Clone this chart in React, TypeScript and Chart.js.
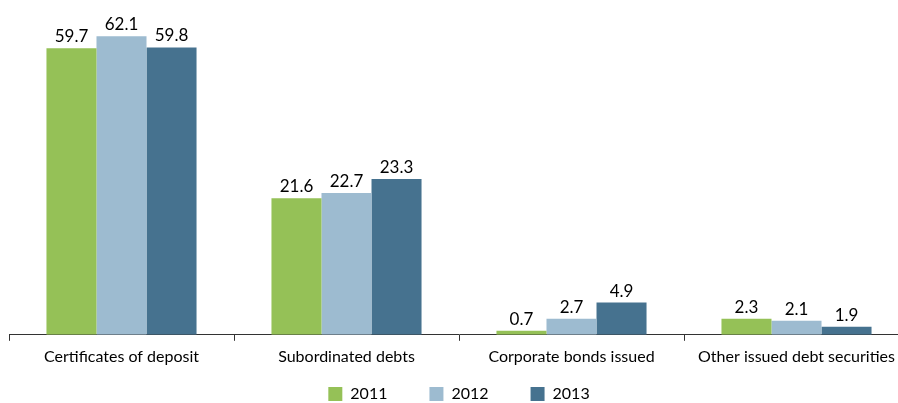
import React, { useEffect, useRef } from "react";
import { Chart, registerables } from "chart.js";

Chart.register(...registerables);

const categories = [
  "Certificates of deposit",
  "Subordinated debts",
  "Corporate bonds issued",
  "Other issued debt securities",
];
const seriesNames = ["2011", "2012", "2013"];
// Values printed above the bars
const labels2011 = [59.7, 21.6, 0.7, 2.3];
const labels2012 = [62.1, 22.7, 2.7, 2.1];
const labels2013 = [59.8, 23.3, 4.9, 1.9];
// Bar heights as drawn in the picture (same units as the printed values for the tallest group)
const bars2011 = [59.6, 28.4, 0.85, 3.35];
const bars2012 = [62.1, 29.5, 3.35, 2.9];
const bars2013 = [59.8, 32.4, 6.7, 1.7];
const colors = ["#95C157", "#9DBBD0", "#46728F"];

const FONT = "Lato, 'Open Sans', sans-serif";
const LEGEND_PAD = 42;

const labelSets = [labels2011, labels2012, labels2013];

const dataLabels = {
  id: "dataLabels",
  afterDatasetsDraw(chart: any) {
    const ctx = chart.ctx;
    ctx.save();
    ctx.font = `17px ${FONT}`;
    ctx.fillStyle = "#000";
    ctx.textAlign = "center";
    ctx.textBaseline = "bottom";
    chart.data.datasets.forEach((_ds: any, i: number) => {
      const meta = chart.getDatasetMeta(i);
      meta.data.forEach((el: any, j: number) => {
        ctx.fillText(labelSets[i][j].toFixed(1), el.x, el.y - 3);
      });
    });
    ctx.restore();
  },
};

const legendShift = {
  id: "legendShift",
  afterLayout(chart: any) {
    const lg = chart.legend;
    if (!lg) return;
    const dy = lg.top + LEGEND_PAD + 8 - 386;
    lg.top -= dy;
    lg.bottom -= dy;
  },
};

export default function App() {
  const ref = useRef<HTMLCanvasElement>(null);
  useEffect(() => {
    if (!ref.current) return;
    const all = [bars2011, bars2012, bars2013];
    const chart = new Chart(ref.current, {
      type: "bar",
      data: {
        labels: categories,
        datasets: all.map((d, i) => ({
          label: seriesNames[i],
          data: d,
          backgroundColor: colors[i],
          borderWidth: 0,
          categoryPercentage: 0.667,
          barPercentage: 1,
        })),
      },
      options: {
        responsive: false,
        animation: false,
        layout: { padding: { left: 1, right: 0, top: 0, bottom: 0 } },
        plugins: {
          tooltip: { enabled: false },
          legend: {
            position: "bottom",
            labels: {
              boxWidth: 14,
              boxHeight: 14,
              padding: LEGEND_PAD,
              color: "#000",
              font: { family: FONT, size: 16 },
            },
          },
        },
        scales: {
          x: {
            grid: {
              drawOnChartArea: false,
              drawTicks: true,
              tickLength: 6,
              color: "#333",
              offset: true,
            },
            border: { display: true, color: "#333", width: 1 },
            ticks: {
              color: "#000",
              font: { family: FONT, size: 16 },
              padding: 6,
              maxRotation: 0,
              autoSkip: false,
            },
          },
          y: {
            display: false,
            min: 0,
            max: 68,
          },
        },
      },
      plugins: [dataLabels, legendShift],
    });
    return () => chart.destroy();
  }, []);
  return (
    <div
      style={{
        position: "absolute",
        left: 8,
        top: 8,
        width: 890,
        height: 395,
        overflow: "hidden",
      }}
    >
      <canvas ref={ref} width={901} height={432} style={{ display: "block" }} />
    </div>
  );
}
